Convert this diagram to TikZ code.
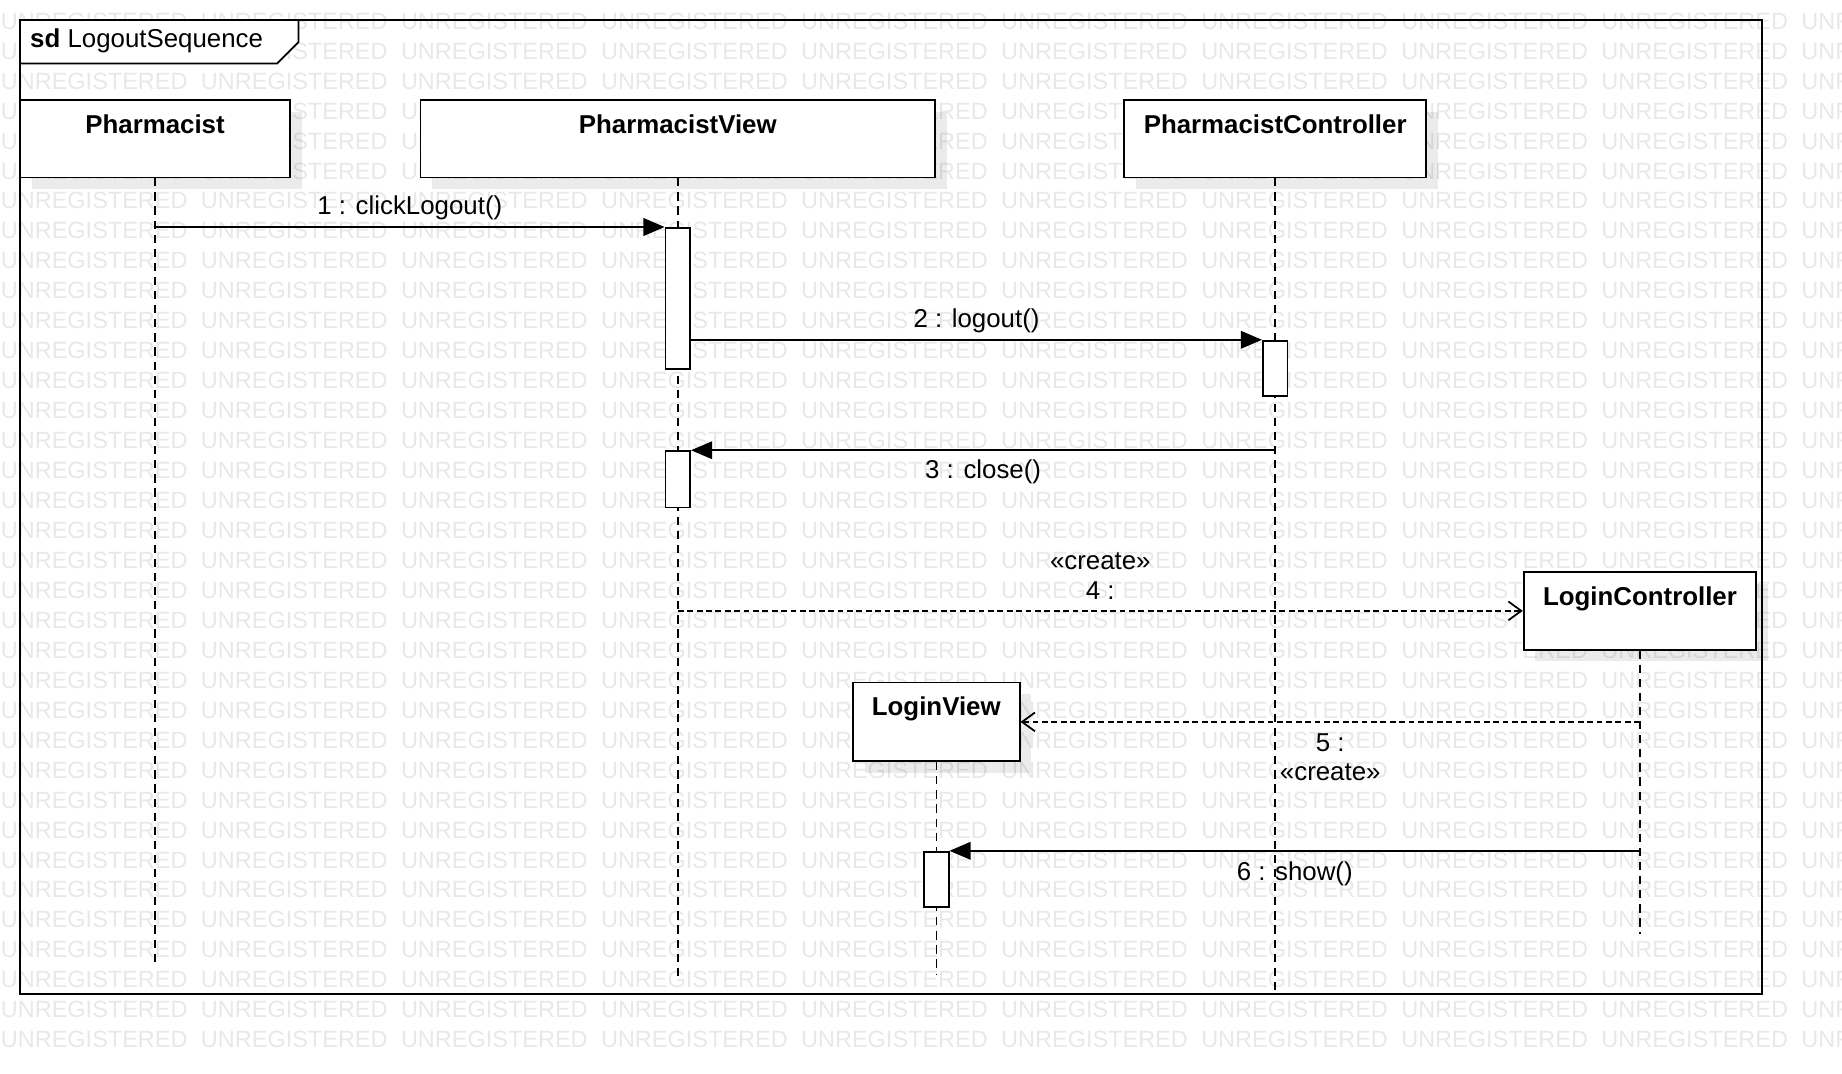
\documentclass[tikz,border=0pt]{standalone}
\usepackage{fontspec}
\setmainfont{Liberation Sans}
\usetikzlibrary{positioning,arrows.meta,shadows}

\begin{document}
\begin{tikzpicture}[x=1pt,y=-1pt,line width=1.5pt,
  wmark/.style={anchor=west,inner sep=0pt,text=black!9,font=\fontsize{20}{20}\selectfont},
  headbox/.style={draw,fill=white,minimum height=66pt,inner sep=0pt,
    drop shadow={shadow xshift=10pt,shadow yshift=-10pt,fill=black,opacity=.08}},
  headname/.style={anchor=base,inner sep=0pt,font=\fontsize{22}{26}\selectfont\bfseries},
  act/.style={draw,fill=white,minimum width=21pt,inner sep=0pt},
  lifeline/.style={line width=1.2pt,dash pattern=on 7pt off 5pt},
  call/.style={-{Triangle[length=18pt,width=15pt]}},
  create/.style={dash pattern=on 5pt off 3pt,-{Straight Barb[length=11pt,width=16pt]}},
  msglabel/.style={font=\fontsize{22}{25}\selectfont,align=center}]
   \useasboundingbox (0,0) rectangle (1568,914);

   % watermark
   \foreach \r in {0,...,34}
     \foreach \c in {0,...,9}
       \node[wmark] at (170.3*\c,18+25.5*\r) {UNREGISTERED};

   % frame
   \fill[white] (17,17) -- (17,54) -- (236,54) -- (254,36) -- (254,17) -- cycle;
   \draw (17,54) -- (236,54) -- (254,36) -- (254,17);
   \draw (17,17) rectangle (1500,846);
   \node[anchor=west,inner sep=0pt,font=\fontsize{22}{26}\selectfont] (sd) at (25,35) {\textbf{sd} LogoutSequence};

   % lifelines
   \node[headbox,minimum width=230pt] (pharm) at (132,118) {};
   \node[headbox,minimum width=438pt] (pview) at (577,118) {};
   \node[headbox,minimum width=257pt] (pctrl) at (1085.5,118) {};
   \node[headbox,minimum width=198pt] (lctrl) at (1396,520) {};
   \node[headbox,minimum width=142pt,minimum height=67pt] (lview) at (797,614.5) {};

   \node[headname] at ([yshift=-29pt]pharm.north) {Pharmacist};
   \node[headname] at ([yshift=-29pt]pview.north) {PharmacistView};
   \node[headname] at ([yshift=-29pt]pctrl.north) {PharmacistController};
   \node[headname] at ([yshift=-29pt]lctrl.north) {LoginController};
   \node[headname] at ([yshift=-29pt]lview.north) {LoginView};

   \coordinate (pharmend) at (132,820);
   \coordinate (pviewend) at (577,835);
   \coordinate (pctrlend) at (1085.5,845);
   \coordinate (lctrlend) at (1396,795);
   \coordinate (lviewend) at (797,830);

   \draw[lifeline] (pharm.south) -- (pharmend);
   \draw[lifeline] (pview.south) -- (pviewend);
   \draw[lifeline] (pctrl.south) -- (pctrlend);
   \draw[lifeline] (lctrl.south) -- (lctrlend);
   \draw[lifeline] (lview.south) -- (lviewend);

   % activations
   \node[act,minimum height=120pt] (pview1) at (577,254) {};
   \node[act,minimum height=47pt] (pctrl1) at (1085.5,313.5) {};
   \node[act,minimum height=48pt] (pview2) at (577,408) {};
   \node[act,minimum height=47pt] (lview1) at (797,748.5) {};

   % messages
   \draw[call] (pharm.south |- pview1.north) -- (pview1.north west)
     node[msglabel,midway,above=2pt] {1 : clickLogout()};
   \draw[call] (pview1.east |- pctrl1.north) -- (pctrl1.north west)
     node[msglabel,midway,above=2pt] {2 : logout()};
   \draw[call] (pctrl.south |- pview2.north) -- (pview2.north east)
     node[msglabel,midway,below=4pt] {3 : close()};
   \draw[create] (pview.south |- lctrl.west) -- (lctrl.west)
     node[msglabel,midway,above=6pt] {«create»\\4 :};
   \draw[create] (lctrl.south |- lview.east) -- (lview.east)
     node[msglabel,midway,below=6pt] {5 :\\«create»};
   \draw[call] (lctrl.south |- lview1.north) -- (lview1.north east)
     node[msglabel,midway,below=5pt] {6 : show()};
\end{tikzpicture}
\end{document}
